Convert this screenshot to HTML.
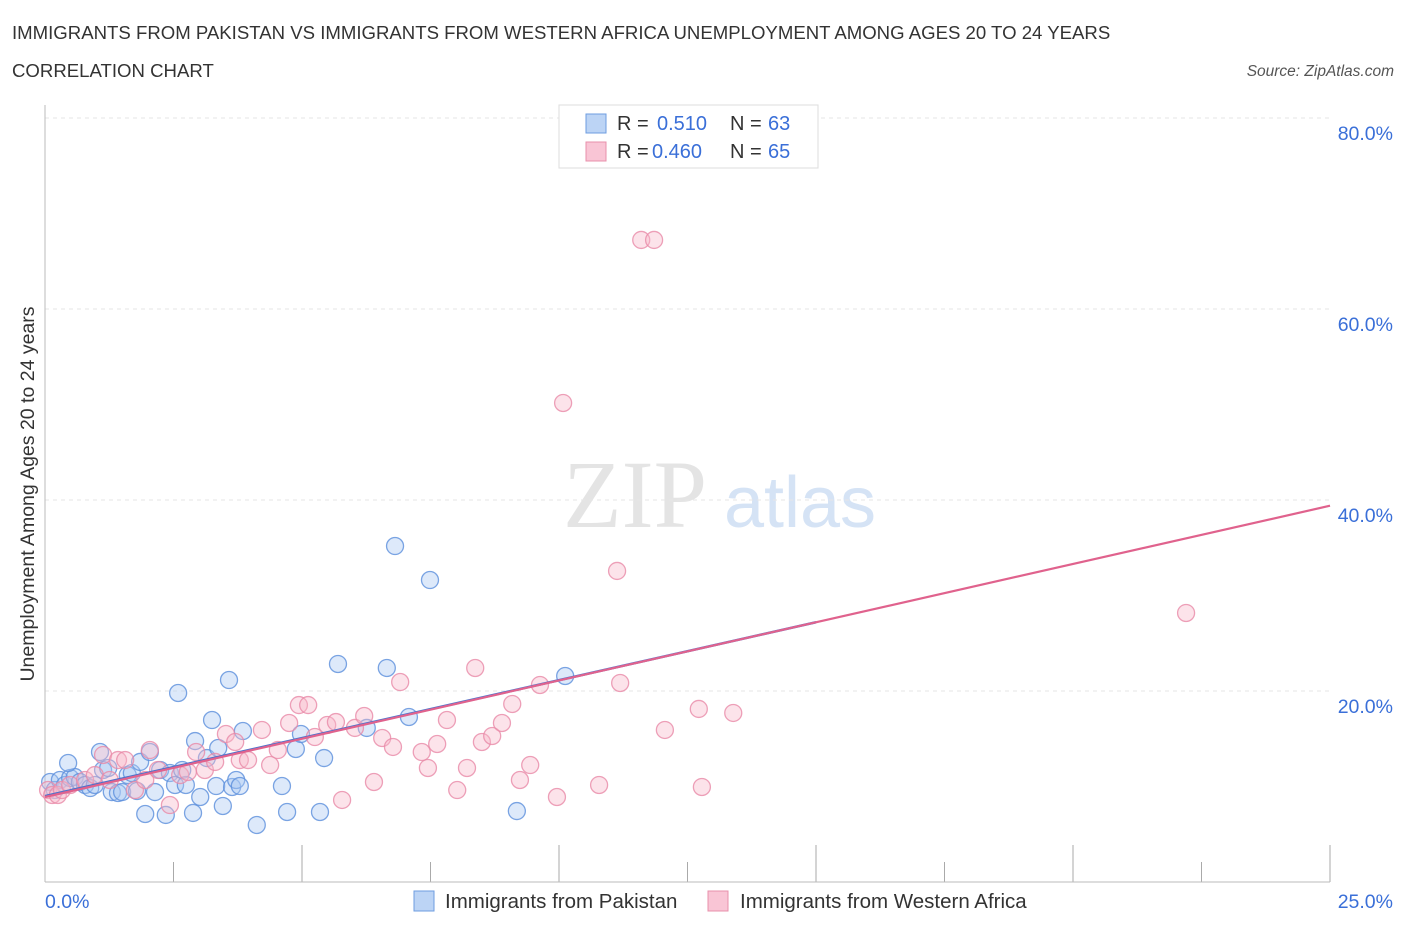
<!DOCTYPE html>
<html><head><meta charset="utf-8"><style>
body{margin:0;background:#fff;font-family:"Liberation Sans",sans-serif;}
</style></head><body>
<svg width="1406" height="930" xmlns="http://www.w3.org/2000/svg">
<text x="12" y="39" font-size="18.6" fill="#333">IMMIGRANTS FROM PAKISTAN VS IMMIGRANTS FROM WESTERN AFRICA UNEMPLOYMENT AMONG AGES 20 TO 24 YEARS</text>
<text x="12" y="77" font-size="18.6" fill="#333">CORRELATION CHART</text>
<text x="1394" y="76" font-size="15.5" fill="#555" font-style="italic" text-anchor="end">Source: ZipAtlas.com</text>
<text x="635" y="527" font-size="96" fill="#e4e4e4" font-family="Liberation Serif,serif" text-anchor="middle">ZIP</text>
<text x="800" y="527" font-size="72" fill="#d5e3f5" text-anchor="middle">atlas</text>
<g id="grid"></g>
<line x1="45" y1="105" x2="45" y2="882" stroke="#bbb"/>
<line x1="45" y1="882" x2="1330" y2="882" stroke="#bbb"/>
<text x="34" y="494" font-size="19.5" fill="#333" text-anchor="middle" transform="rotate(-90 34 494)">Unemployment Among Ages 20 to 24 years</text>
<text x="45" y="908" font-size="19.5" fill="#3a6fd8">0.0%</text>
<text x="1393" y="908" font-size="19.5" fill="#3a6fd8" text-anchor="end">25.0%</text>
<g id="points"></g>
<g id="lines"></g>
<g>
<rect x="559" y="105" width="259" height="63" fill="#fff" stroke="#ddd"/>
<rect x="586" y="114" width="20" height="19" fill="#bcd4f5" stroke="#6e9de0"/>
<rect x="586" y="142" width="20" height="19" fill="#f9c5d5" stroke="#e890ab"/>
<text x="617" y="130" font-size="20" fill="#333">R = </text><text x="657" y="130" font-size="20" fill="#3a6fd8">0.510</text>
<text x="730" y="130" font-size="20" fill="#333">N = </text><text x="768" y="130" font-size="20" fill="#3a6fd8">63</text>
<text x="617" y="158" font-size="20" fill="#333">R = </text><text x="652" y="158" font-size="20" fill="#3a6fd8">0.460</text>
<text x="730" y="158" font-size="20" fill="#333">N = </text><text x="768" y="158" font-size="20" fill="#3a6fd8">65</text>
</g>
<g>
<rect x="414" y="891" width="20" height="20" fill="#bcd4f5" stroke="#6e9de0"/>
<text x="445" y="908" font-size="20.5" fill="#333">Immigrants from Pakistan</text>
<rect x="708" y="891" width="20" height="20" fill="#f9c5d5" stroke="#e890ab"/>
<text x="740" y="908" font-size="20.5" fill="#333">Immigrants from Western Africa</text>
</g>
</svg>
<script>
const yTicks=[20,40,60,80];
const xTicks=[2.5,5,7.5,10,12.5,15,17.5,20,22.5,25];
const bluePx=[[50,782],[55,790],[60,780],[65,785],[70,778],[75,777],[80,782],[85,785],[90,788],[95,785],[68,763],[100,752],[103,770],[108,768],[112,792],[118,793],[122,792],[128,775],[132,773],[137,791],[140,762],[145,814],[150,752],[155,792],[160,770],[166,815],[170,773],[175,785],[178,693],[182,770],[186,785],[193,813],[195,741],[200,797],[207,758],[212,720],[216,786],[218,748],[223,806],[229,680],[232,787],[236,780],[240,786],[243,731],[257,825],[282,786],[287,812],[296,749],[301,734],[320,812],[324,758],[338,664],[367,728],[387,668],[395,546],[409,717],[430,580],[517,811],[565,676]];
const pinkPx=[[48,790],[52,795],[58,795],[62,790],[70,785],[85,780],[95,775],[103,755],[110,780],[118,760],[125,760],[135,790],[145,780],[150,750],[158,770],[170,805],[180,775],[188,772],[196,752],[205,770],[215,762],[226,734],[235,742],[240,760],[248,760],[262,730],[270,765],[278,750],[289,723],[299,705],[308,705],[315,737],[327,725],[336,722],[342,800],[355,728],[364,716],[374,782],[382,738],[393,747],[400,682],[422,752],[428,768],[437,744],[447,720],[457,790],[467,768],[475,668],[482,742],[492,736],[502,723],[512,704],[520,780],[530,765],[540,685],[557,797],[563,403],[599,785],[617,571],[620,683],[641,240],[654,240],[665,730],[699,709],[702,787],[733,713],[1186,613]];
const blueX=bluePx.map(p=>+((p[0]-45)/1285*25).toFixed(2));
const blueY=bluePx.map(p=>+((882-p[1])/191*20).toFixed(2));
const pinkX=pinkPx.map(p=>+((p[0]-45)/1285*25).toFixed(2));
const pinkY=pinkPx.map(p=>+((882-p[1])/191*20).toFixed(2));
const blueTrend=[[0,9.0],[15,27.2]];
const blueTrendExt=[[15,27.2],[25,39.4]];
const pinkTrend=[[0,8.9],[25,39.4]];
const NS="http://www.w3.org/2000/svg";
const sx=v=>45+v/25*1285, sy=v=>882-v/20*191;
const grid=document.getElementById('grid');
yTicks.forEach(t=>{
 const l=document.createElementNS(NS,'line');
 l.setAttribute('x1',45);l.setAttribute('x2',1330);l.setAttribute('y1',sy(t));l.setAttribute('y2',sy(t));
 l.setAttribute('stroke','#e6e6e6');l.setAttribute('stroke-dasharray','4,4');
 
 
 grid.appendChild(l);
 const tx=document.createElementNS(NS,'text');
 tx.setAttribute('x',1393);tx.setAttribute('y',sy(t)+22);tx.setAttribute('text-anchor','end');
 tx.setAttribute('font-size','19.5');tx.setAttribute('fill','#3a6fd8');tx.textContent=t.toFixed(1)+'%';
 
 
 grid.appendChild(tx);
});
xTicks.forEach(t=>{
 const l=document.createElementNS(NS,'line');
 l.setAttribute('x1',sx(t));l.setAttribute('x2',sx(t));l.setAttribute('y1',882);l.setAttribute('y2',t%5===0?845:862);
 l.setAttribute('stroke','#aaa');
 
 
 grid.appendChild(l);
});
const pts=document.getElementById('points');
function dots(xs,ys,fill,stroke,name){
 xs.forEach((x,i)=>{
  const c=document.createElementNS(NS,'circle');
  c.setAttribute('cx',sx(x));c.setAttribute('cy',sy(ys[i]));c.setAttribute('r',8.5);
  c.setAttribute('fill',fill);c.setAttribute('fill-opacity','0.4');c.setAttribute('stroke',stroke);c.setAttribute('stroke-opacity','0.8');c.setAttribute('stroke-width','1.3');
  
  
  pts.appendChild(c);
 });
}
dots(blueX,blueY,'#a9c8f2','#5b8fdc','pakistan-point');
dots(pinkX,pinkY,'#f7b8cb','#e88aa7','western-africa-point');
const ln=document.getElementById('lines');
function line(p,color,dash,name,w){
 const l=document.createElementNS(NS,'line');
 l.setAttribute('x1',sx(p[0][0]));l.setAttribute('y1',sy(p[0][1]));l.setAttribute('x2',sx(p[1][0]));l.setAttribute('y2',sy(p[1][1]));
 l.setAttribute('stroke',color);l.setAttribute('stroke-width',w);if(dash)l.setAttribute('stroke-dasharray',dash);
 
 
 ln.appendChild(l);
}
line(blueTrend,'#4a72cc',null,'pakistan-trendline',2.5);
line(blueTrendExt,'#9ab0dd','5,4','pakistan-trendline-extension',1.5);
line(pinkTrend,'#e0628d',null,'western-africa-trendline',2.2);
</script>
</body></html>
